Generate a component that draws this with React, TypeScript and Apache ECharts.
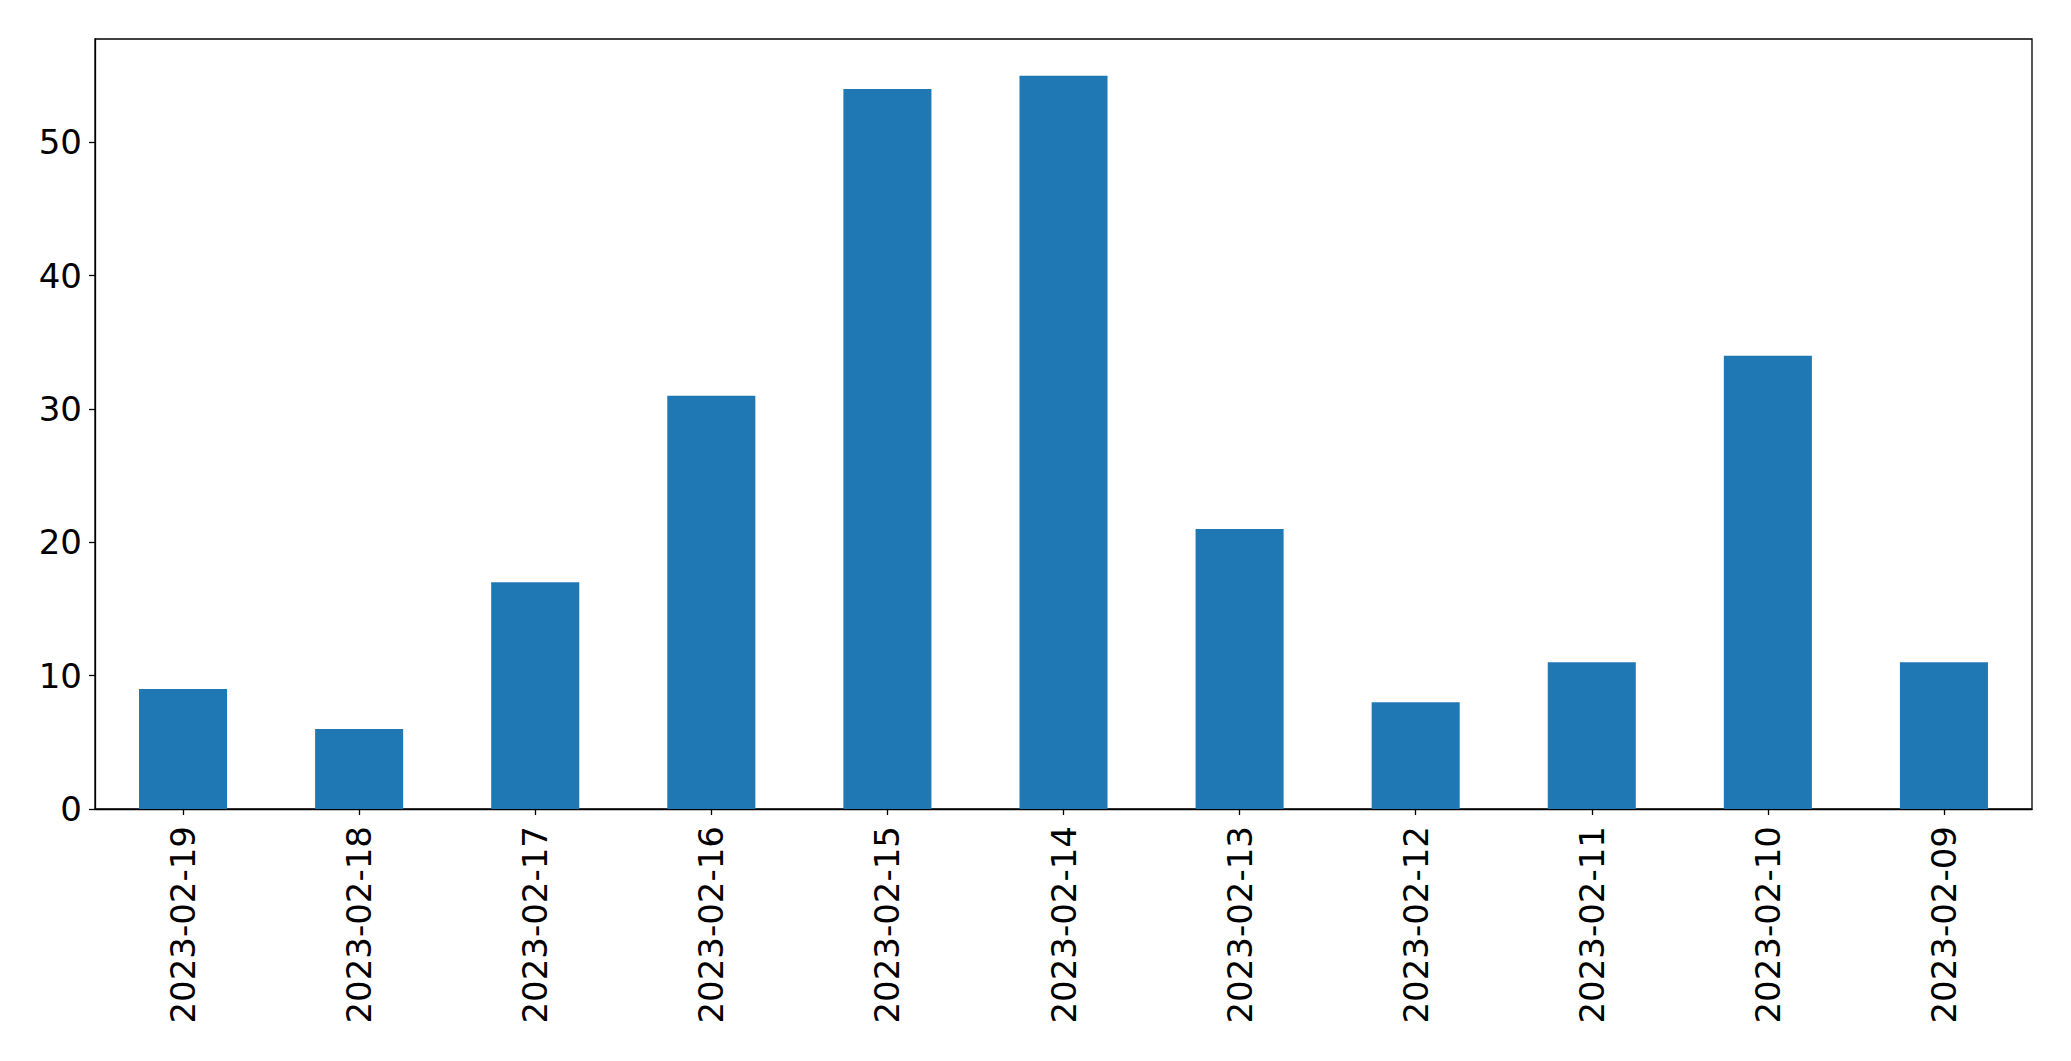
import React, { useEffect, useRef } from "react";
import * as echarts from "echarts";

const categories = [
  "2023-02-19", "2023-02-18", "2023-02-17", "2023-02-16", "2023-02-15", "2023-02-14",
  "2023-02-13", "2023-02-12", "2023-02-11", "2023-02-10", "2023-02-09",
];
const values = [9, 6, 17, 31, 54, 55, 21, 8, 11, 34, 11];
const yTicks = [0, 10, 20, 30, 40, 50];

export default function App() {
  const ref = useRef<HTMLDivElement>(null);
  useEffect(() => {
    if (!ref.current) return;
    const chart = echarts.init(ref.current, null, { renderer: "svg" });
    const font = "DejaVu Sans";
    chart.setOption({
      animation: false,
      backgroundColor: "#ffffff",
      grid: {
        left: 95,
        right: 39,
        top: 39,
        bottom: 252,
        show: true,
        borderColor: "#000",
        borderWidth: 1.3,
        containLabel: false,
      },
      xAxis: {
        type: "category",
        data: categories,
        axisLine: { show: true, lineStyle: { color: "#000", width: 1.3 } },
        axisTick: { show: true, alignWithLabel: true, length: 6, lineStyle: { color: "#000", width: 1.3 } },
        axisLabel: {
          rotate: 90,
          margin: 17,
          fontSize: 34,
          color: "#000",
          fontFamily: font,
          interval: 0,
        },
        splitLine: { show: false },
      },
      yAxis: {
        type: "value",
        min: 0,
        max: 57.75,
        interval: 10,
        axisLine: { show: true, lineStyle: { color: "#000", width: 1.3 } },
        axisTick: { show: true, length: 6, lineStyle: { color: "#000", width: 1.3 }, customValues: yTicks },
        axisLabel: {
          margin: 13,
          fontSize: 34,
          color: "#000",
          fontFamily: font,
          customValues: yTicks,
        },
        splitLine: { show: false },
      },
      series: [
        {
          type: "bar",
          data: values,
          barWidth: "50%",
          itemStyle: { color: "#1f77b4" },
        },
      ],
    });
    return () => chart.dispose();
  }, []);
  return (
    <div
      ref={ref}
      style={{ position: "fixed", left: 0, top: 0, width: 2071, height: 1061, background: "#fff" }}
    />
  );
}
